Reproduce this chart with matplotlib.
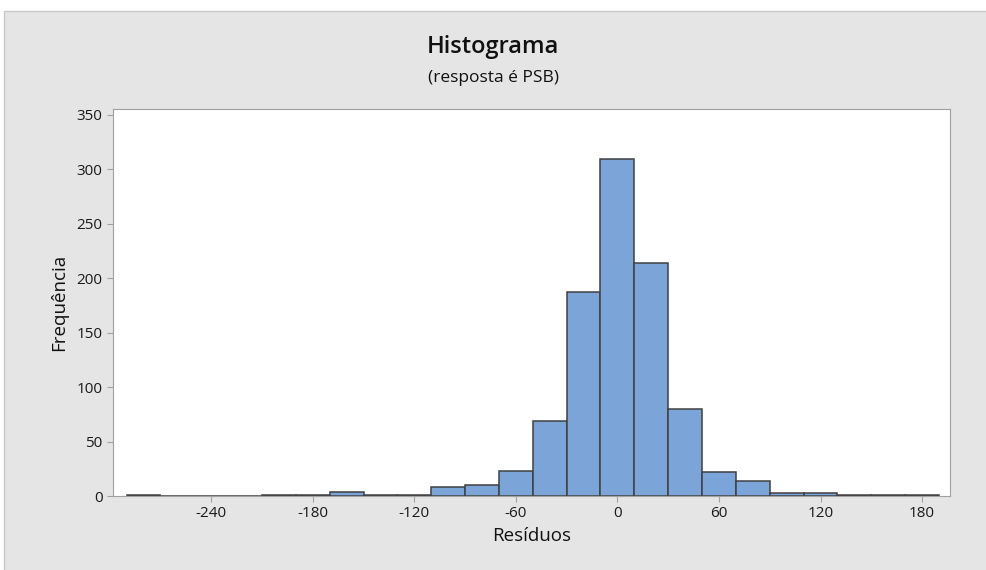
import numpy as np
import matplotlib.pyplot as plt
from matplotlib.patches import Rectangle

# bin centres (width 20) and counts
centros = [-280, -260, -240, -220, -200, -180, -160, -140, -120, -100, -80, -60,
           -40, -20, 0, 20, 40, 60, 80, 100, 120, 140, 160, 180]
contagens = [1, 0, 0, 0, 1, 1, 4, 1, 1, 8, 10, 23,
             69, 187, 310, 214, 80, 22, 14, 3, 3, 1, 1, 1]
xticks = [-240, -180, -120, -60, 0, 60, 120, 180]
yticks = [0, 50, 100, 150, 200, 250, 300, 350]

plt.rcParams['font.family'] = ['Open Sans', 'DejaVu Sans']
plt.rcParams['axes.unicode_minus'] = False

fig = plt.figure(figsize=(9.86, 5.70), dpi=100)
fig.patch.set_facecolor('white')
fig.patches.append(Rectangle((4/986, -0.01), 1, 1.01 - 11/570, transform=fig.transFigure,
                             facecolor='#e5e5e5', edgecolor='#c8c8c8', lw=1, zorder=-1))

ax = fig.add_axes([113/986, 74/570, 837/986, 387/570])
ax.bar(centros, contagens, width=20, color='#7ba4d9', edgecolor='#404040', linewidth=1.1)

ax.set_xlim(-298, 196.5)
ax.set_ylim(0, 355.5)
ax.set_xticks(xticks)
ax.set_yticks(yticks)
for s in ax.spines.values():
    s.set_color('#a0a0a0')
ax.tick_params(colors='#a0a0a0', labelcolor='#1a1a1a', labelsize=11, length=4)

ax.set_xlabel('Resíduos', fontsize=13.5, color='#111111', labelpad=4)
ax.set_ylabel('Frequência', fontsize=13.5, color='#111111', labelpad=6)

fig.text(0.5, 1 - 47/570, 'Histograma', ha='center', va='center', fontsize=17,
         fontweight='semibold', color='#111111')
fig.text(0.5, 1 - 78/570, '(resposta é PSB)', ha='center', va='center', fontsize=12.5,
         color='#111111')

fig.savefig('out.png', dpi=100)
